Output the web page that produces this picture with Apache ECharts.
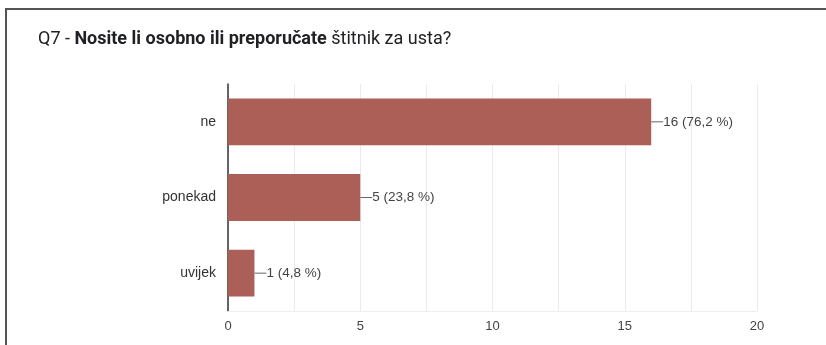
<!DOCTYPE html>
<html><head><meta charset="utf-8">
<script src="https://cdn.jsdelivr.net/npm/echarts@6/dist/echarts.min.js"></script>
<style>html,body{margin:0;padding:0;background:#fff}#c{width:826px;height:345px}</style>
</head><body><div id="c"></div>
<script>
const categories = ['ne', 'ponekad', 'uvijek'];
const counts = [16, 5, 1];
const percents = ['76,2', '23,8', '4,8'];
const xTicks = [0, 5, 10, 15, 20];

const chart = echarts.init(document.getElementById('c'));
chart.setOption({
  animation: false,
  graphic: [{
    type: 'rect', shape: {x: 6, y: 9, width: 840, height: 400},
    style: {fill: 'none', stroke: '#555', lineWidth: 2}, silent: true
  }],
  title: {
    left: 33, top: 25,
    text: '{n|Q7 - }{b|Nosite li osobno ili preporučate}{n| štitnik za usta?}',
    textStyle: {
      rich: {
        n: {fontFamily: 'Roboto', fontSize: 18, fontWeight: 'normal', color: '#202124'},
        b: {fontFamily: 'Roboto', fontSize: 18, fontWeight: 'bold', color: '#202124'}
      }
    }
  },
  grid: {left: 228, right: 69, top: 84, height: 227, containLabel: false},
  xAxis: {
    type: 'value', min: 0, max: 20, interval: 2.5,
    axisLine: {show: true, lineStyle: {color: '#eee'}},
    axisTick: {show: false},
    splitLine: {show: true, lineStyle: {color: '#ebebeb', width: 1}},
    axisLabel: {
      color: '#444', fontFamily: 'Liberation Sans', fontSize: 13, margin: 9,
      formatter: v => xTicks.includes(v) ? String(v) : ''
    }
  },
  yAxis: {
    type: 'category', data: categories, inverse: true,
    axisLine: {show: true, lineStyle: {color: '#333', width: 1.5}},
    axisTick: {show: false},
    axisLabel: {color: '#333', fontFamily: 'Liberation Sans', fontSize: 14, margin: 12}
  },
  series: [{
    type: 'bar',
    data: counts,
    barWidth: '62%',
    itemStyle: {color: '#ab5f56'},
    label: {
      show: true, position: 'right', distance: 0,
      fontFamily: 'Liberation Sans', fontSize: 13.5, color: '#444',
      formatter: p => counts[p.dataIndex] + ' (' + percents[p.dataIndex] + ' %)'
    },
    labelLayout: {dx: 12},
    labelLine: {show: true, lineStyle: {color: '#666', width: 1}}
  }]
});
</script></body></html>
